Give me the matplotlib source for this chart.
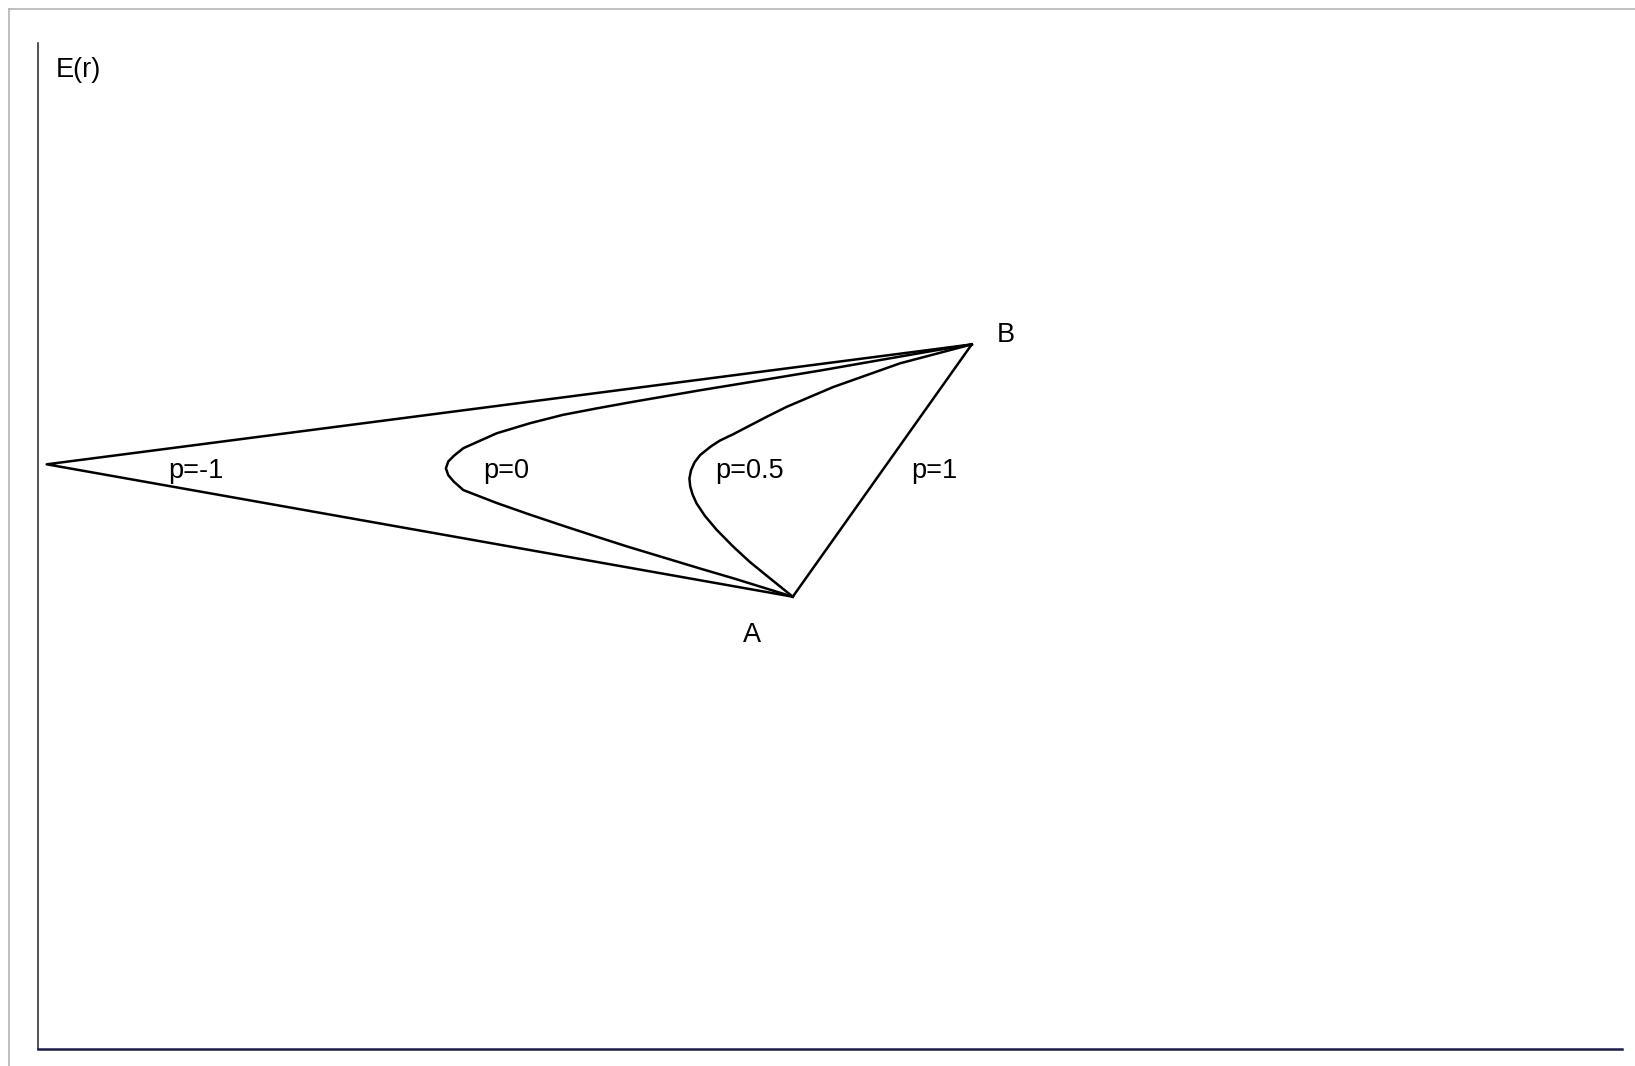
import matplotlib
matplotlib.use("Agg")
import matplotlib.pyplot as plt
from matplotlib.lines import Line2D

plt.rcParams['font.family'] = ['Liberation Sans', 'DejaVu Sans']

# asset points (sigma, E(r))
sig_a, er_a = 19.06, 11.24
sig_b, er_b = 23.58, 17.51

# p = -1 : straight lines through the zero-risk point
sig_m1 = [23.58, 0.22, 19.06]
er_m1 = [17.51, 14.53, 11.24]

# p = 0
sig_0 = [23.58, 22.60, 21.26, 19.75, 18.40, 16.72, 14.95, 14.11, 13.26, 12.42, 11.58, 10.74,
         10.50, 10.36, 10.30, 10.36, 10.50, 10.74, 11.58, 12.42, 13.27, 14.11, 14.87, 15.88,
         16.72, 17.55, 19.06]
er_0 = [17.51, 17.35, 17.12, 16.86, 16.64, 16.37, 16.07, 15.92, 15.76, 15.55, 15.30, 14.93,
        14.74, 14.60, 14.43, 14.26, 14.10, 13.89, 13.57, 13.28, 13.00, 12.73, 12.49, 12.19,
        11.94, 11.70, 11.24]

# p = 0.5
sig_05 = [23.58, 21.77, 20.08, 18.91, 18.40, 17.56, 17.22, 17.00, 16.72, 16.58, 16.49, 16.45,
          16.47, 16.53, 16.63, 16.84, 17.14, 17.55, 17.98, 18.48, 19.06]
er_05 = [17.51, 17.04, 16.45, 15.96, 15.71, 15.28, 15.12, 14.98, 14.76, 14.58, 14.38, 14.18,
         13.98, 13.78, 13.56, 13.25, 12.90, 12.49, 12.10, 11.70, 11.24]

# p = 1
sig_1 = [19.06, 23.58]
er_1 = [11.24, 17.51]

labels = ['p=-1', 'p=0', 'p=0.5', 'p=1']
label_x = [3.29, 11.25, 17.10, 22.06]
label_y = 14.18

fig = plt.figure(figsize=(16.35, 10.66), dpi=100)
ax = fig.add_axes([38 / 1635, 17 / 1066, 1584 / 1635, 1006 / 1066])
ax.set_xlim(0, 40)
ax.set_ylim(0, 25)

for s, e in [(sig_m1, er_m1), (sig_0, er_0), (sig_05, er_05), (sig_1, er_1)]:
    ax.plot(s, e, color='black', lw=1.8, solid_joinstyle='round')

for lab, x in zip(labels, label_x):
    ax.text(x, label_y, lab, fontsize=19.5, ha='left', va='baseline')

ax.text(sig_b + 0.63, er_b + 0.07, 'B', fontsize=19.5, ha='left', va='baseline')
ax.text(sig_a - 1.26, er_a - 1.12, 'A', fontsize=19.5, ha='left', va='baseline')
ax.text(0.45, 24.16, 'E(r)', fontsize=19.5, ha='left', va='baseline')

ax.spines['top'].set_visible(False)
ax.spines['right'].set_visible(False)
ax.spines['left'].set_color('#222222')
ax.spines['left'].set_linewidth(1.1)
ax.spines['bottom'].set_color('#1c1c4a')
ax.spines['bottom'].set_linewidth(1.8)
ax.set_xticks([])
ax.set_yticks([])

# light grey frame around the picture
fig.add_artist(Line2D([9 / 1635, 1.0], [1057 / 1066, 1057 / 1066], color='#b5b5b5', lw=1.2))
fig.add_artist(Line2D([9 / 1635, 9 / 1635], [0.0, 1057 / 1066], color='#b5b5b5', lw=1.2))

fig.savefig('out.png', dpi=100)
